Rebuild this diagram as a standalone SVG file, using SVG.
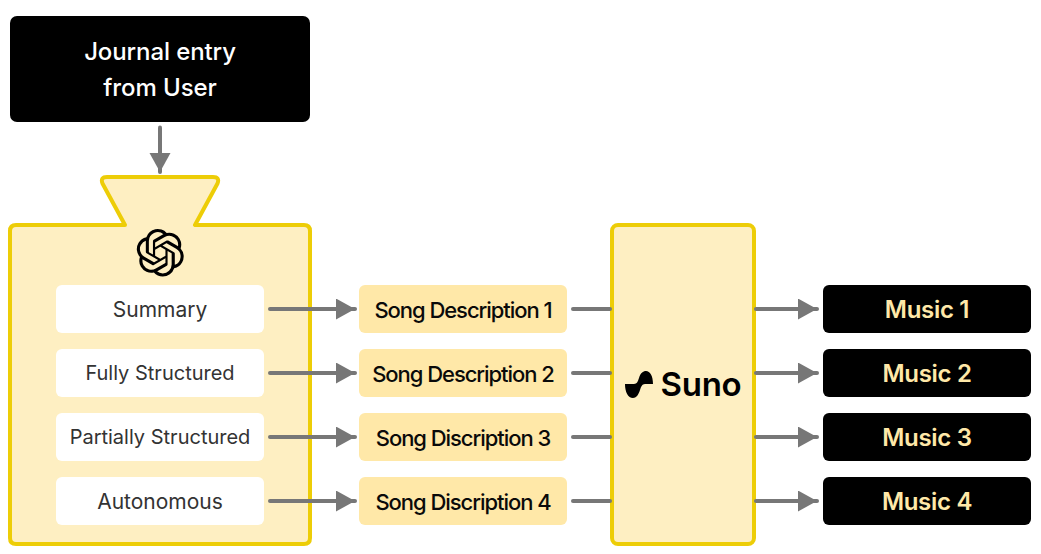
<svg xmlns="http://www.w3.org/2000/svg" width="1041" height="554" viewBox="0 0 1041 554">
<style>
text{font-family:Inter,"Liberation Sans",sans-serif;text-anchor:middle;dominant-baseline:auto}
.panel{fill:#FEEFC2;stroke:#EDCD07;stroke-width:4;stroke-linejoin:round}
.white{fill:#fff}
.song{fill:#FFE8A8}
.black{fill:#000}
.lbl{font-size:20px;fill:#333;font-weight:400}
.lbw{font-size:21px}
.sd{font-size:22px;fill:#0a0a0a;font-weight:500;letter-spacing:-1.05px}
.mus{font-size:24px;fill:#FFE8A8;font-weight:600;letter-spacing:-.3px}
.ttl{font-size:24px;fill:#fff;font-weight:500;letter-spacing:-.1px}
.ln{fill:none;stroke:#777;stroke-width:4;stroke-linecap:round}
</style>
<defs>
<marker id="ah" markerUnits="userSpaceOnUse" markerWidth="20" markerHeight="22" refX="19" refY="10.5" orient="auto"><path d="M0 0L19 10.5L0 21Z" fill="#777"/></marker>
</defs>
<g id="journal"><rect class="black" x="10" y="16" width="300" height="106" rx="7"/><text class="ttl" x="160" y="60">Journal entry</text><text class="ttl" x="160" y="96">from User</text></g>
<g id="chatgpt">
<path class="panel" d="M16 225H125L102.500 183.500Q100 177 107 177H213Q220 177 217.500 183.500L195 225H304Q310 225 310 231V538Q310 544 304 544H16Q10 544 10 538V231Q10 225 16 225Z"/>
<path fill="#000" transform="translate(136.500 229) scale(1.98)" d="M22.2819 9.8211a5.9847 5.9847 0 0 0-.5157-4.9108 6.0462 6.0462 0 0 0-6.5098-2.9A6.0651 6.0651 0 0 0 4.9807 4.1818a5.9847 5.9847 0 0 0-3.9977 2.9 6.0462 6.0462 0 0 0 .7427 7.0966 5.98 5.98 0 0 0 .511 4.9107 6.051 6.051 0 0 0 6.5146 2.9001A5.9847 5.9847 0 0 0 13.2599 24a6.0557 6.0557 0 0 0 5.7718-4.2058 5.9894 5.9894 0 0 0 3.9977-2.9001 6.0557 6.0557 0 0 0-.7475-7.0729zm-9.022 12.6081a4.4755 4.4755 0 0 1-2.8764-1.0408l.1419-.0804 4.7783-2.7582a.7948.7948 0 0 0 .3927-.6813v-6.7369l2.02 1.1686a.071.071 0 0 1 .038.052v5.5826a4.504 4.504 0 0 1-4.4945 4.4944zm-9.6607-4.1254a4.4708 4.4708 0 0 1-.5346-3.0137l.142.0852 4.783 2.7582a.7712.7712 0 0 0 .7806 0l5.8428-3.3685v2.3324a.0804.0804 0 0 1-.0332.0615L9.74 19.9502a4.4992 4.4992 0 0 1-6.1408-1.6464zM2.3408 7.8956a4.485 4.485 0 0 1 2.3655-1.9728V11.6a.7664.7664 0 0 0 .3879.6765l5.8144 3.3543-2.0201 1.1685a.0757.0757 0 0 1-.071 0l-4.8303-2.7865A4.504 4.504 0 0 1 2.3408 7.872zm16.5963 3.8558L13.1038 8.364 15.1192 7.2a.0757.0757 0 0 1 .071 0l4.8303 2.7913a4.4944 4.4944 0 0 1-.6765 8.1042v-5.6772a.79.79 0 0 0-.407-.667zm2.0107-3.0231l-.142-.0852-4.7735-2.7818a.7759.7759 0 0 0-.7854 0L9.409 9.2297V6.8974a.0662.0662 0 0 1 .0284-.0615l4.8303-2.7866a4.4992 4.4992 0 0 1 6.6802 4.66zM8.3065 12.863l-2.02-1.1638a.0804.0804 0 0 1-.038-.0567V6.0742a4.4992 4.4992 0 0 1 7.3757-3.4537l-.142.0805L8.704 5.459a.7948.7948 0 0 0-.3927.6813zm1.0976-2.3654l2.602-1.4998 2.6069 1.4998v2.9994l-2.5974 1.5093-2.6067-1.4997z"/>
</g>
<g id="summary"><rect class="white" x="56" y="285" width="208" height="48" rx="6"/><text class="lbl lbw" x="160" y="316.500">Summary</text></g>
<g id="fully"><rect class="white" x="56" y="349" width="208" height="48" rx="6"/><text class="lbl" x="160" y="380">Fully Structured</text></g>
<g id="partially"><rect class="white" x="56" y="413" width="208" height="48" rx="6"/><text class="lbl" x="160" y="444">Partially Structured</text></g>
<g id="autonomous"><rect class="white" x="56" y="477" width="208" height="48" rx="6"/><text class="lbl lbw" x="160" y="509">Autonomous</text></g>
<g id="song1"><rect class="song" x="359" y="285" width="208" height="48" rx="6"/><text class="sd" x="463" y="317.500">Song Description 1</text></g>
<g id="song2"><rect class="song" x="359" y="349" width="208" height="48" rx="6"/><text class="sd" x="463" y="381.500">Song Description 2</text></g>
<g id="song3"><rect class="song" x="359" y="413" width="208" height="48" rx="6"/><text class="sd" x="463" y="445.500">Song Discription 3</text></g>
<g id="song4"><rect class="song" x="359" y="477" width="208" height="48" rx="6"/><text class="sd" x="463" y="509.500">Song Discription 4</text></g>
<g id="suno">
<rect class="panel" x="612" y="225" width="142" height="319" rx="6"/>
<path fill="#000" d="M625 384H634C637 384 638 381 639 378C640.500 373 643 371 646 371C650 371 653 376 653 384H645C642 384 641 387 640 390C638.500 395 636 398 633 398C628 398 625 392 625 384Z"/>
<text x="701" y="396" style="font-size:33px;font-weight:600;letter-spacing:-.3px;fill:#000">Suno</text>
</g>
<g id="music1"><rect class="black" x="823" y="285" width="208" height="48" rx="6"/><text class="mus" x="927" y="318">Music 1</text></g>
<g id="music2"><rect class="black" x="823" y="349" width="208" height="48" rx="6"/><text class="mus" x="927" y="382">Music 2</text></g>
<g id="music3"><rect class="black" x="823" y="413" width="208" height="48" rx="6"/><text class="mus" x="927" y="446">Music 3</text></g>
<g id="music4"><rect class="black" x="823" y="477" width="208" height="48" rx="6"/><text class="mus" x="927" y="510">Music 4</text></g>
<g id="connectors">
<path class="ln" d="M160 127.500V172" marker-end="url(#ah)"/>
<path class="ln" d="M270 309H355" marker-end="url(#ah)"/>
<path class="ln" d="M270 373H355" marker-end="url(#ah)"/>
<path class="ln" d="M270 437H355" marker-end="url(#ah)"/>
<path class="ln" d="M270 501H355" marker-end="url(#ah)"/>
<path class="ln" d="M573 309H610"/>
<path class="ln" d="M573 373H610"/>
<path class="ln" d="M573 437H610"/>
<path class="ln" d="M573 501H610"/>
<path class="ln" d="M756 309H817" marker-end="url(#ah)"/>
<path class="ln" d="M756 373H817" marker-end="url(#ah)"/>
<path class="ln" d="M756 437H817" marker-end="url(#ah)"/>
<path class="ln" d="M756 501H817" marker-end="url(#ah)"/>
</g>
</svg>
